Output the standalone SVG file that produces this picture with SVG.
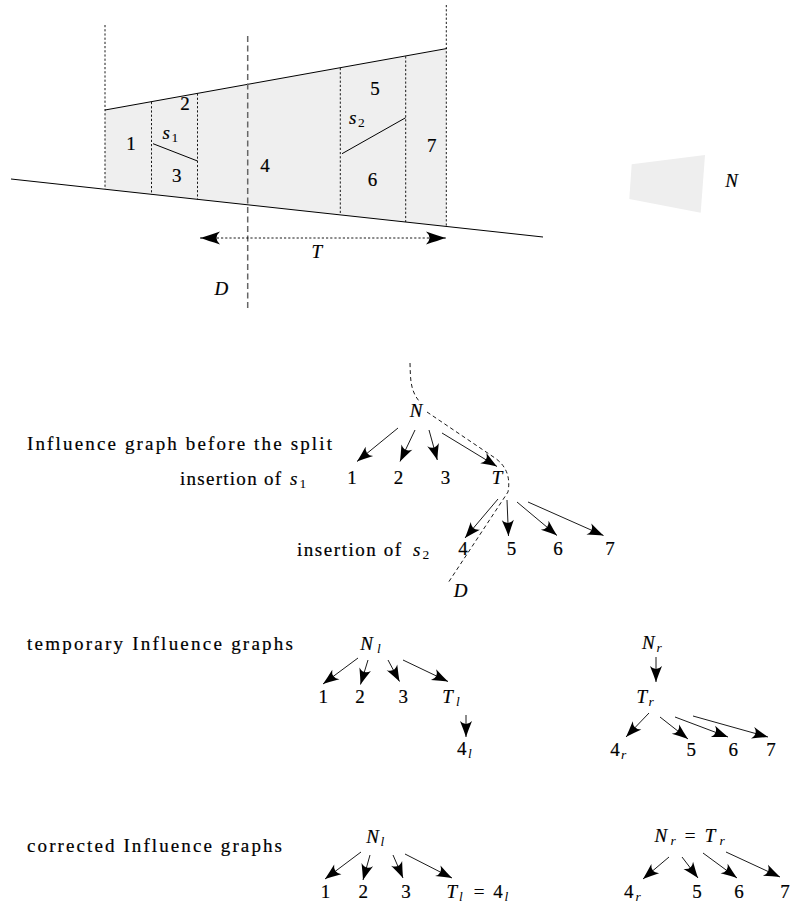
<svg xmlns="http://www.w3.org/2000/svg" width="791" height="905" viewBox="0 0 791 905">
<style>
.t{font-family:"Liberation Serif",serif;font-size:19px;fill:#000;stroke:#000;stroke-width:0.2}
.c{text-anchor:middle}
.m{font-family:"Liberation Serif",serif;font-style:italic;font-size:19px;fill:#000;stroke:#000;stroke-width:0.2}
.s{font-family:"Liberation Serif",serif;font-size:13.5px;fill:#000}
.si{font-family:"Liberation Serif",serif;font-style:italic;font-size:13.5px;fill:#000}
.dot{stroke:#000;stroke-width:0.9;stroke-dasharray:2.2,2;fill:none}
.ln{stroke:#000;stroke-width:1;fill:none}
.arr{stroke:#000;stroke-width:0.9;fill:none;marker-end:url(#ah)}
.dsh{stroke:#000;stroke-width:0.9;stroke-dasharray:4,3;fill:none}
</style>
<defs>
<marker id="ah" viewBox="-17 -7 18 14" refX="0" refY="0" markerWidth="18" markerHeight="14" markerUnits="userSpaceOnUse" orient="auto">
<path d="M0,0 Q-7,-2.4 -16,-6 Q-10,0 -16,6 Q-7,2.4 0,0Z" fill="#000"/>
</marker>
<marker id="ahT" viewBox="-21 -7 22 14" refX="0" refY="0" markerWidth="22" markerHeight="14" markerUnits="userSpaceOnUse" orient="auto-start-reverse">
<path d="M0,0 Q-8,-2.5 -20,-6.5 Q-13,0 -20,6.5 Q-8,2.5 0,0Z" fill="#000"/>
</marker>
</defs>

<g id="trapezoid-scene">
<polygon points="105,110 446.3,49 446.3,226.5 105,189.2" fill="#efefef"/>
<line x1="11" y1="179" x2="543" y2="237" class="ln"/>
<line x1="105" y1="110" x2="447" y2="48.5" class="ln"/>
<line x1="105" y1="25" x2="105" y2="189" class="dot"/>
<line x1="151.5" y1="102" x2="151.5" y2="194.5" class="dot"/>
<line x1="197.5" y1="93.5" x2="197.5" y2="199.5" class="dot"/>
<line x1="340.3" y1="68" x2="340.3" y2="213.5" class="dot"/>
<line x1="405.7" y1="56.3" x2="405.7" y2="222" class="dot"/>
<line x1="446.3" y1="5" x2="446.3" y2="226.5" class="dot"/>
<line x1="247.7" y1="36" x2="247.7" y2="309" stroke="#666" stroke-width="1.5" stroke-dasharray="6,3.5"/>
<line x1="153" y1="143.7" x2="197.5" y2="161" class="ln"/>
<line x1="342" y1="153.7" x2="405.7" y2="117.7" class="ln"/>
<line x1="200" y1="238" x2="446" y2="238" class="dot" marker-start="url(#ahT)" marker-end="url(#ahT)"/>
<text class="t c" x="131" y="150">1</text>
<text class="t c" x="185" y="110">2</text>
<text class="m" x="162.5" y="139">s</text><text class="s" x="171.5" y="142">1</text>
<text class="t c" x="176.7" y="181.5">3</text>
<text class="t c" x="265" y="171.5">4</text>
<text class="t c" x="375" y="95">5</text>
<text class="m" x="349" y="124">s</text><text class="s" x="358" y="127">2</text>
<text class="t c" x="431.7" y="152">7</text>
<text class="t c" x="372.5" y="186">6</text>
<text class="m c" x="316.7" y="258">T</text>
<text class="m c" x="221.3" y="295">D</text>
<polygon points="631.7,164.3 705,155 700.7,212.7 629.3,199" fill="#eeeeee"/>
<text class="m c" x="731.7" y="186.5">N</text>
</g>

<g id="captions">
<text class="t" x="27" y="450" textLength="305" lengthAdjust="spacing">Influence graph before the split</text>
<text class="t" x="180" y="485" textLength="101" lengthAdjust="spacing">insertion of</text>
<text class="m" x="290" y="485">s</text><text class="s" x="299.5" y="488">1</text>
<text class="t" x="297" y="556" textLength="104" lengthAdjust="spacing">insertion of</text>
<text class="m" x="413" y="556">s</text><text class="s" x="422.5" y="559">2</text>
<text class="t" x="27" y="650" textLength="266" lengthAdjust="spacing">temporary Influence graphs</text>
<text class="t" x="27" y="852" textLength="255" lengthAdjust="spacing">corrected Influence graphs</text>
</g>

<g id="connectors">
<path class="dsh" d="M410,363 C410.5,378 410,390 419,401"/>
<path class="dsh" d="M427,412 L495,458 Q512,470 508,492 L448,583"/>
<line class="arr" x1="398" y1="428" x2="357" y2="461.5"/>
<line class="arr" x1="415" y1="430" x2="400" y2="461.5"/>
<line class="arr" x1="429" y1="430" x2="437.3" y2="460"/>
<line class="arr" x1="442" y1="433" x2="497" y2="466.5"/>
<line class="arr" x1="498" y1="499" x2="465" y2="538"/>
<line class="arr" x1="507" y1="500" x2="508.5" y2="536"/>
<line class="arr" x1="517" y1="502" x2="557" y2="535.5"/>
<line class="arr" x1="528" y1="502" x2="603.5" y2="535.5"/>
<line class="arr" x1="358" y1="658" x2="323" y2="684"/>
<line class="arr" x1="368" y1="660" x2="360.5" y2="684.5"/>
<line class="arr" x1="388" y1="660" x2="399.5" y2="681.5"/>
<line class="arr" x1="403" y1="660" x2="448" y2="681.5"/>
<line class="arr" x1="466" y1="715" x2="466" y2="737"/>
<line class="arr" x1="656" y1="657" x2="656" y2="682"/>
<line class="arr" x1="649" y1="713" x2="626" y2="737"/>
<line class="arr" x1="660" y1="717" x2="688" y2="739"/>
<line class="arr" x1="675" y1="717" x2="728" y2="737"/>
<line class="arr" x1="693" y1="716" x2="768" y2="737"/>
<line class="arr" x1="361" y1="852" x2="325" y2="879"/>
<line class="arr" x1="370" y1="855" x2="363" y2="880"/>
<line class="arr" x1="393" y1="855" x2="403" y2="878"/>
<line class="arr" x1="405" y1="854" x2="452" y2="878"/>
<line class="arr" x1="669" y1="857" x2="643" y2="879"/>
<line class="arr" x1="682" y1="857" x2="698" y2="878"/>
<line class="arr" x1="703" y1="853" x2="737" y2="878"/>
<line class="arr" x1="726" y1="852" x2="780" y2="877"/>
</g>

<g id="g1-N"><text class="m c" x="416" y="417">N</text></g>
<g id="g1-1"><text class="t c" x="352" y="484">1</text></g>
<g id="g1-2"><text class="t c" x="398.5" y="484">2</text></g>
<g id="g1-3"><text class="t c" x="445.5" y="484">3</text></g>
<g id="g1-T"><text class="m c" x="497" y="484">T</text></g>
<g id="g1-4"><text class="t c" x="463" y="555">4</text></g>
<g id="g1-5"><text class="t c" x="511.5" y="555">5</text></g>
<g id="g1-6"><text class="t c" x="558" y="555">6</text></g>
<g id="g1-7"><text class="t c" x="610" y="555">7</text></g>
<g id="g1-D"><text class="m c" x="460.5" y="597">D</text></g>

<g id="g2-Nl"><text class="m c" x="366.5" y="650">N</text><text class="si" x="377" y="653">l</text></g>
<g id="g2-1"><text class="t c" x="323.3" y="703">1</text></g>
<g id="g2-2"><text class="t c" x="360" y="703">2</text></g>
<g id="g2-3"><text class="t c" x="403.3" y="703">3</text></g>
<g id="g2-Tl"><text class="m c" x="447.5" y="703">T</text><text class="si" x="456" y="706">l</text></g>
<g id="g2-4l"><text class="t c" x="461.7" y="755">4</text><text class="si" x="468" y="758">l</text></g>
<g id="g2-Nr"><text class="m c" x="648.3" y="648.5">N</text><text class="si" x="656.5" y="651.5">r</text></g>
<g id="g2-Tr"><text class="m c" x="641.7" y="703">T</text><text class="si" x="648.5" y="706">r</text></g>
<g id="g2-4r"><text class="t c" x="615" y="756">4</text><text class="si" x="621" y="759">r</text></g>
<g id="g2-5"><text class="t c" x="691.3" y="756">5</text></g>
<g id="g2-6"><text class="t c" x="733.3" y="756">6</text></g>
<g id="g2-7"><text class="t c" x="771" y="756">7</text></g>

<g id="g3-Nl"><text class="m c" x="372.5" y="843">N</text><text class="si" x="380.5" y="846">l</text></g>
<g id="g3-1"><text class="t c" x="325.5" y="898">1</text></g>
<g id="g3-2"><text class="t c" x="363.3" y="898">2</text></g>
<g id="g3-3"><text class="t c" x="406" y="898">3</text></g>
<g id="g3-Tl4l"><text class="m c" x="451.7" y="898">T</text><text class="si" x="459" y="901">l</text><text class="t c" x="479" y="898">=</text><text class="t c" x="498" y="898">4</text><text class="si" x="504.5" y="901">l</text></g>
<g id="g3-NrTr"><text class="m c" x="660.8" y="841.5">N</text><text class="si" x="670.5" y="844.5">r</text><text class="t c" x="690" y="841.5">=</text><text class="m c" x="710" y="841.5">T</text><text class="si" x="719.5" y="844.5">r</text></g>
<g id="g3-4r"><text class="t c" x="628.8" y="898">4</text><text class="si" x="635.5" y="901">r</text></g>
<g id="g3-5"><text class="t c" x="697" y="898">5</text></g>
<g id="g3-6"><text class="t c" x="739" y="898">6</text></g>
<g id="g3-7"><text class="t c" x="785" y="898">7</text></g>
</svg>
